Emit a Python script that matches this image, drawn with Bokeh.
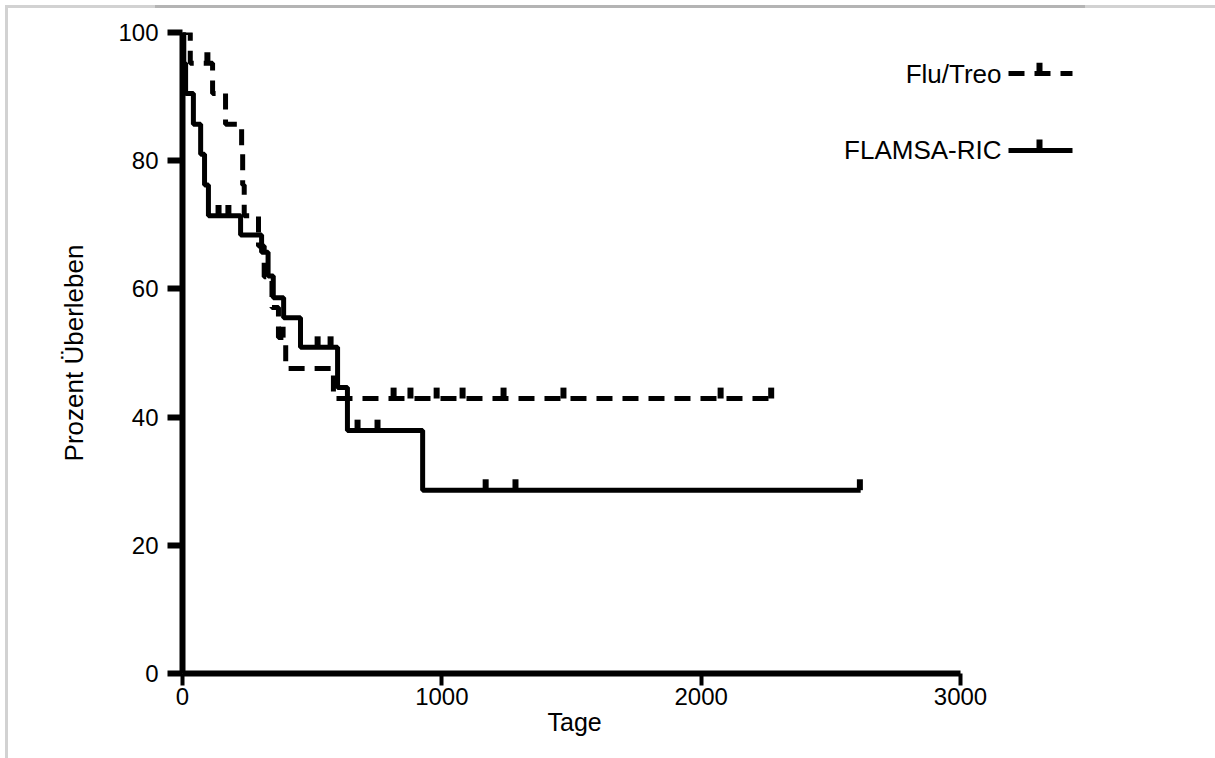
import numpy as np
from bokeh.plotting import figure
from bokeh.models import Range1d, FixedTicker, Label, Arrow, Title, InlineStyleSheet
from bokeh.embed import file_html
from bokeh.resources import INLINE

# ---- data ----
flu_t = [0, 30, 116, 166, 228, 232, 238, 293, 315, 345, 370, 398, 582, 2275]
flu_s = [100, 95.2, 90.5, 85.7, 81.0, 76.2, 71.4, 66.7, 61.9, 57.1, 52.4, 47.6, 42.9, 42.9]
flu_censor = [96, 386, 814, 879, 980, 1080, 1238, 1469, 2075, 2270]

flamsa_t = [0, 5, 12, 42, 70, 85, 100, 224, 305, 330, 350, 390, 455, 598, 636, 926, 2615]
flamsa_s = [100, 95.2, 90.5, 85.7, 81.0, 76.2, 71.4, 68.4, 65.7, 62.0, 58.6, 55.5, 50.9, 44.6, 37.9, 28.6, 28.6]
flamsa_censor = [139, 177, 521, 571, 675, 752, 1169, 1284, 2612]

x_ticks = [0, 1000, 2000, 3000]
y_ticks = [0, 20, 40, 60, 80, 100]
series_names = ["Flu/Treo", "FLAMSA-RIC"]
x_label = "Tage"
y_label = "Prozent Überleben"

# ---- layout / style ----
FONT = "Liberation Sans"
LW = 5
DASH = "16 10"
TICK_H = 1.7  # height of censor marks (percent units)
W, H = 1215, 758
LEFT, AXIS_RIGHT, TOP, BOTTOM = 182, 960, 32, 673
X_MAX = 3000
px_per_day = (AXIS_RIGHT - LEFT) / X_MAX
x_end = X_MAX + (W - AXIS_RIGHT) / px_per_day   # frame extends to the right edge (room for legend)


def surv_at(t, s, c):
    t = np.asarray(t, float)
    s = np.asarray(s, float)
    idx = np.searchsorted(t, np.asarray(c, float), side="right") - 1
    return s[idx]


def px_to_day(px):
    return (px - LEFT) / px_per_day


p = figure(width=W, height=H, output_backend="svg", toolbar_location=None,
           x_range=Range1d(0, x_end), y_range=Range1d(0, 100),
           min_border_left=LEFT, min_border_right=0, min_border_top=TOP, min_border_bottom=H - BOTTOM)
p.outline_line_color = None
p.xgrid.visible = False
p.ygrid.visible = False
p.background_fill_color = "white"
p.border_fill_color = "white"
# thin grey screenshot frame at the top and left edge (overlay lines)
p.stylesheets = [InlineStyleSheet(css="""
:host::before {
  content: ""; position: absolute; left: 5px; top: 5px; width: 3px; height: 753px;
  background: #d2d2d2; z-index: 10; pointer-events: none;
}
:host::after {
  content: ""; position: absolute; left: 5px; top: 5px; width: 1210px; height: 3px;
  background: linear-gradient(to right, #d2d2d2 0px, #d2d2d2 150px, #b4b4b4 150px, #b4b4b4 1080px,
                              #d2d2d2 1080px, #d2d2d2 1210px);
  z-index: 10; pointer-events: none;
}
""")]

# curves
p.step(flu_t, flu_s, mode="after", line_color="black", line_width=LW, line_dash=DASH)
p.step(flamsa_t, flamsa_s, mode="after", line_color="black", line_width=LW)

fc_y = surv_at(flu_t, flu_s, flu_censor)
p.segment(x0=flu_censor, y0=fc_y, x1=flu_censor, y1=fc_y + TICK_H, line_color="black", line_width=LW + 1)
mc_y = surv_at(flamsa_t, flamsa_s, flamsa_censor)
p.segment(x0=flamsa_censor, y0=mc_y, x1=flamsa_censor, y1=mc_y + TICK_H, line_color="black", line_width=LW + 1)

# axes
for ax in (p.xaxis[0], p.yaxis[0]):
    ax.axis_line_width = 6
    ax.axis_line_color = "black"
    ax.major_tick_line_color = "black"
    ax.minor_tick_line_color = None
    ax.major_tick_in = 0
    ax.major_label_text_font = FONT
    ax.major_label_text_font_size = "24px"
    ax.major_label_text_color = "black"
    ax.axis_label_text_font = FONT
    ax.axis_label_text_font_style = "normal"
    ax.axis_label_text_color = "black"

p.xaxis[0].ticker = FixedTicker(ticks=x_ticks)
p.xaxis[0].bounds = (0, X_MAX)
p.yaxis[0].ticker = FixedTicker(ticks=y_ticks)
p.xaxis[0].major_tick_out = 12
p.xaxis[0].major_tick_line_width = 4
p.xaxis[0].major_label_standoff = 2
p.yaxis[0].major_tick_out = 15
p.yaxis[0].major_tick_line_width = 6
p.yaxis[0].major_label_standoff = 9
p.yaxis[0].axis_label = y_label
p.yaxis[0].axis_label_text_font_size = "26px"
p.yaxis[0].axis_label_standoff = 26

# x axis title, centred under the 0..3000 axis
p.add_layout(Title(text=x_label, align="left", offset=547 - LEFT, standoff=-4,
                   text_font=FONT, text_font_size="25px", text_font_style="normal",
                   text_color="black"), "below")

# legend (label left of the line sample)
leg_y = [93.6, 81.6]
leg_x0, leg_x1, leg_text_x = px_to_day(1008), px_to_day(1072), px_to_day(1001)
leg_tick_x = px_to_day(1039)
for name, yy, dash in zip(series_names, leg_y, [DASH, "solid"]):
    p.add_layout(Arrow(end=None, x_start=leg_x0, y_start=yy, x_end=leg_x1, y_end=yy,
                       line_color="black", line_width=LW, line_dash=dash))
    p.add_layout(Arrow(end=None, x_start=leg_tick_x, y_start=yy, x_end=leg_tick_x, y_end=yy + TICK_H,
                       line_color="black", line_width=LW + 1))
    p.add_layout(Label(x=leg_text_x, y=yy, text=name, text_align="right", text_baseline="middle",
                       text_font=FONT, text_font_size="26px", text_color="black"))

open("out.html", "w").write(file_html(p, INLINE))
